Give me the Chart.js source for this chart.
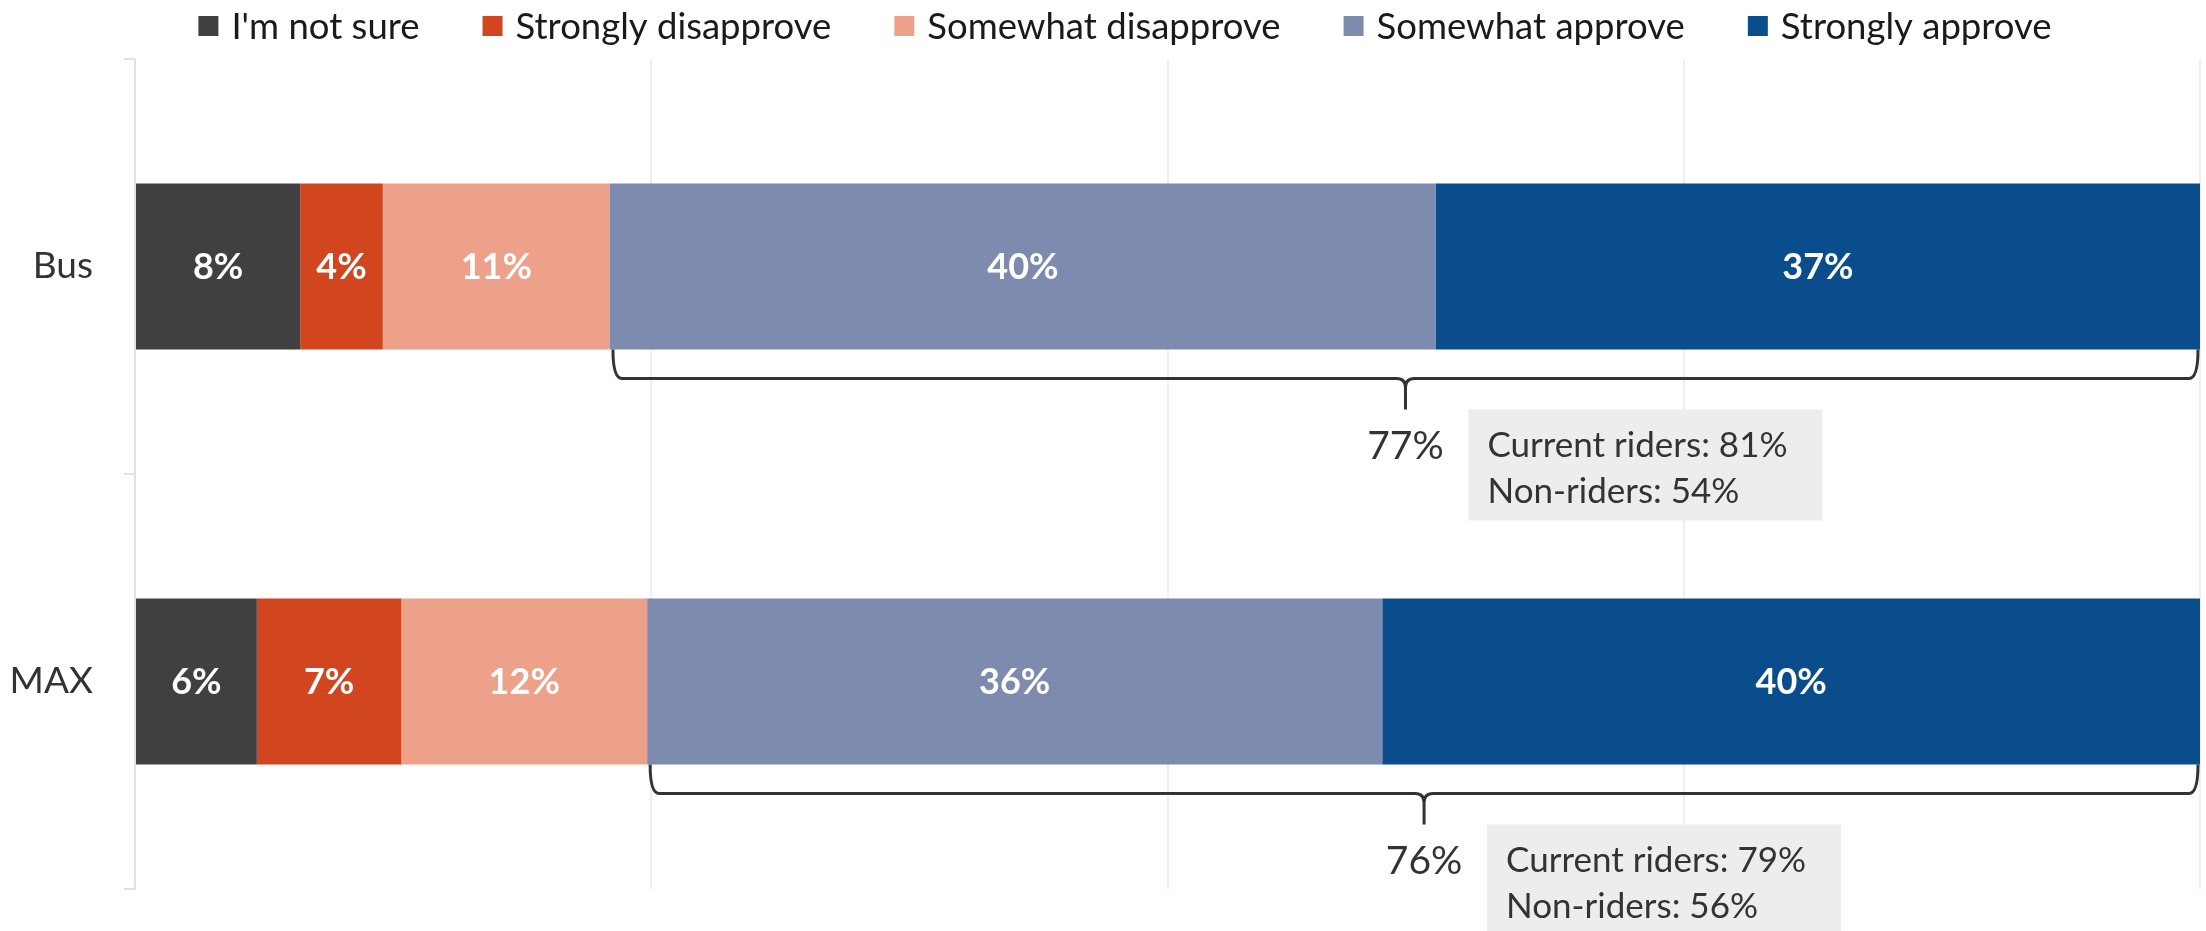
<!DOCTYPE html>
<html lang="en">
<head>
    <meta charset="UTF-8">
    <title>Bus and MAX approval</title>
    <script src="https://cdn.jsdelivr.net/npm/chart.js"></script>
    <style>
        body, html {
            margin: 0;
            padding: 0;
            background: #fff;
        }
        canvas {
            display: block;
        }
    </style>
</head>
<body>
    <canvas id="approvalChart" width="2206" height="931"></canvas>
    <script>
        const modes = ['Bus', 'MAX'];
        const seriesNames = ["I'm not sure", 'Strongly disapprove', 'Somewhat disapprove', 'Somewhat approve', 'Strongly approve'];
        // bar lengths; labels show them rounded
        const notSure = [8.0, 5.9];
        const stronglyDisapprove = [4.0, 7.0];
        const somewhatDisapprove = [11.0, 11.9];
        const somewhatApprove = [40.0, 35.6];
        const stronglyApprove = [37.0, 39.6];
        const approveTotal = [77, 76];
        const currentRiders = [81, 79];
        const nonRiders = [54, 56];
        const xTicks = [0, 25, 50, 75, 100];

        const colors = ['#404040', '#d1451f', '#eda08a', '#7d8bae', '#0a4d8c'];
        const FONT = 'Lato, "Open Sans", sans-serif';
        const series = [notSure, stronglyDisapprove, somewhatDisapprove, somewhatApprove, stronglyApprove];

        // legend drawn by hand so the item spacing can match
        const legendPlugin = {
            id: 'topLegend',
            afterDraw(chart) {
                const ctx = chart.ctx;
                const box = 20, gap = 13, between = 63, cy = 26;
                ctx.save();
                ctx.font = '36.5px ' + FONT;
                const widths = seriesNames.map(n => ctx.measureText(n).width);
                const total = widths.reduce((s, w) => s + box + gap + w, 0) + between * (seriesNames.length - 1);
                let x = 1125 - total / 2;
                ctx.textBaseline = 'middle';
                seriesNames.forEach((name, i) => {
                    ctx.fillStyle = colors[i];
                    ctx.fillRect(x, cy - box / 2, box, box);
                    ctx.fillStyle = '#1a1a1a';
                    ctx.fillText(name, x + box + gap, cy + 1);
                    x += box + gap + widths[i] + between;
                });
                ctx.restore();
            }
        };

        const valueLabels = {
            id: 'valueLabels',
            afterDatasetsDraw(chart) {
                const ctx = chart.ctx;
                ctx.save();
                ctx.font = 'bold 36px ' + FONT;
                ctx.fillStyle = '#fff';
                ctx.textAlign = 'center';
                ctx.textBaseline = 'middle';
                chart.data.datasets.forEach((ds, i) => {
                    chart.getDatasetMeta(i).data.forEach((bar, j) => {
                        const p = bar.getCenterPoint();
                        ctx.fillText(Math.round(ds.data[j]) + '%', p.x, p.y + 1);
                    });
                });
                ctx.restore();
            }
        };

        function drawBrace(ctx, x1, x2, top) {
            const mid = top + 29, tip = top + 60, r = 9;
            const cx = (x1 + x2) / 2;
            ctx.beginPath();
            ctx.moveTo(x1, top);
            ctx.quadraticCurveTo(x1, mid, x1 + r, mid);
            ctx.lineTo(cx - r, mid);
            ctx.quadraticCurveTo(cx, mid, cx, mid + r);
            ctx.lineTo(cx, tip);
            ctx.moveTo(x2, top);
            ctx.quadraticCurveTo(x2, mid, x2 - r, mid);
            ctx.lineTo(cx + r, mid);
            ctx.quadraticCurveTo(cx, mid, cx, mid + r);
            ctx.stroke();
        }

        const approveBraces = {
            id: 'approveBraces',
            afterDraw(chart) {
                const ctx = chart.ctx;
                const xs = chart.scales.x;
                const lastMeta = chart.getDatasetMeta(series.length - 1);
                ctx.save();
                modes.forEach((m, j) => {
                    const start = notSure[j] + stronglyDisapprove[j] + somewhatDisapprove[j];
                    const end = start + somewhatApprove[j] + stronglyApprove[j];
                    const bar = lastMeta.data[j];
                    const bottom = bar.y + bar.height / 2;
                    const x1 = xs.getPixelForValue(start) + 3;
                    const x2 = xs.getPixelForValue(end) - 2;
                    const cx = (x1 + x2) / 2;

                    ctx.strokeStyle = '#333';
                    ctx.lineWidth = 3;
                    drawBrace(ctx, x1, x2, bottom);

                    ctx.fillStyle = '#333';
                    ctx.font = '39px ' + FONT;
                    ctx.textAlign = 'center';
                    ctx.textBaseline = 'middle';
                    ctx.fillText(approveTotal[j] + '%', cx, bottom + 97);

                    const bx = cx + 63;
                    ctx.fillStyle = '#ededed';
                    ctx.fillRect(bx, bottom + 60, 354, 111);
                    ctx.fillStyle = '#333';
                    ctx.font = '35px ' + FONT;
                    ctx.textAlign = 'left';
                    ctx.fillText('Current riders: ' + currentRiders[j] + '%', bx + 19, bottom + 96);
                    ctx.fillText('Non-riders: ' + nonRiders[j] + '%', bx + 19, bottom + 142);
                });
                ctx.restore();
            }
        };

        new Chart(document.getElementById('approvalChart'), {
            type: 'bar',
            data: {
                labels: modes,
                datasets: series.map((values, i) => ({
                    label: seriesNames[i],
                    data: values,
                    backgroundColor: colors[i],
                    borderWidth: 0,
                    barPercentage: 0.4,
                    categoryPercentage: 1.0
                }))
            },
            options: {
                indexAxis: 'y',
                responsive: false,
                animation: false,
                layout: {
                    padding: { top: 59, bottom: 42, left: 0, right: 6 }
                },
                plugins: {
                    legend: { display: false },
                    tooltip: { enabled: false }
                },
                scales: {
                    x: {
                        stacked: true,
                        min: xTicks[0],
                        max: xTicks[xTicks.length - 1],
                        afterBuildTicks: s => { s.ticks = xTicks.map(v => ({ value: v })); },
                        afterFit: s => { s.height = 0; },
                        ticks: { display: false },
                        grid: { color: '#efefef', lineWidth: 2, drawTicks: false },
                        border: { display: false }
                    },
                    y: {
                        stacked: true,
                        afterFit: s => {
                            s.width = 135;
                            s.paddingTop = 0;
                            s.paddingBottom = 0;
                        },
                        ticks: {
                            color: '#333',
                            padding: 31,
                            font: { family: FONT, size: 37 }
                        },
                        grid: { drawOnChartArea: false, tickLength: 11, color: '#dfe3e9', lineWidth: 2 },
                        border: { color: '#dfe3e9', width: 2 }
                    }
                }
            },
            plugins: [legendPlugin, valueLabels, approveBraces]
        });
    </script>
</body>
</html>
